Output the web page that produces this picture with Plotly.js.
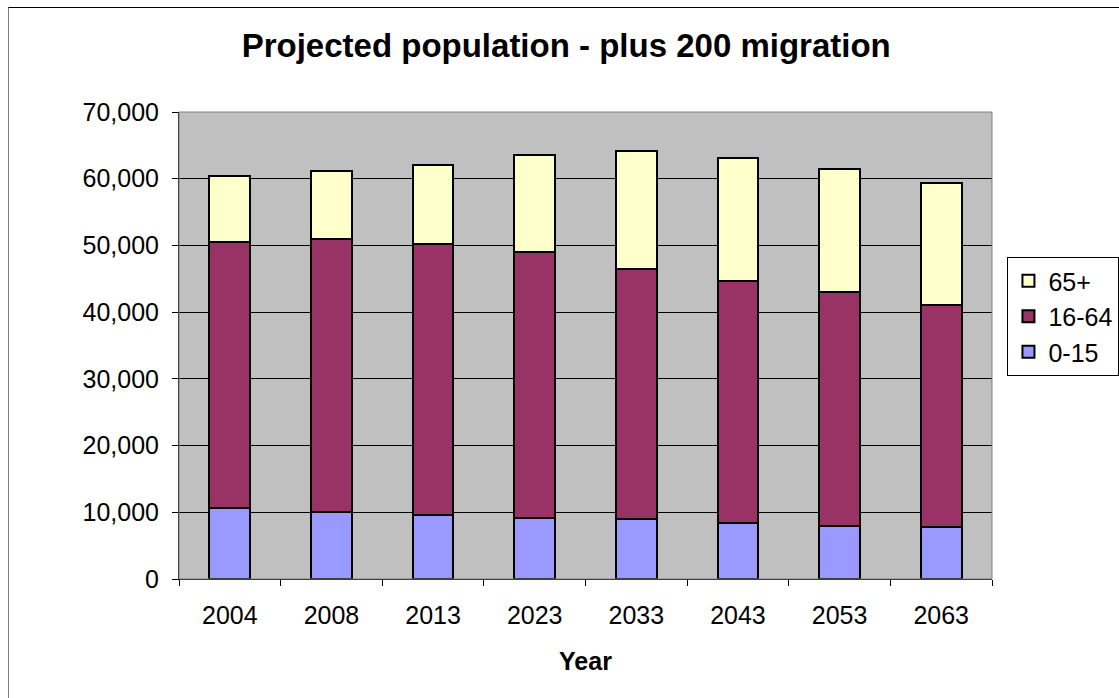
<!DOCTYPE html>
<html>
<head>
<meta charset="utf-8">
<script src="https://cdn.plot.ly/plotly-3.0.1.min.js"></script>
<style>
  html, body { margin: 0; padding: 0; background: #ffffff; }
  #wrap { position: relative; width: 1119px; height: 698px; overflow: hidden; }
  #frame { position: absolute; left: 8px; top: 7px; width: 1200px; height: 800px;
           border-left: 1px solid #808080; border-top: 1px solid #000000; pointer-events: none; }
  #chart { position: absolute; left: 0; top: 0; width: 1119px; height: 698px; }
</style>
</head>
<body>
<div id="wrap">
  <div id="chart"></div>
  <div id="frame"></div>
</div>
<script>
// Projected population by age band, plus 200 migration scenario
const years = ['2004', '2008', '2013', '2023', '2033', '2043', '2053', '2063'];
const age0to15 = [10600, 10050, 9550, 9100, 8950, 8400, 8000, 7860];
const age16to64 = [39900, 40900, 40700, 39900, 37500, 36200, 35000, 33240];
const age65plus = [9850, 10200, 11750, 14600, 17700, 18550, 18400, 18300];

const FONT = 'Liberation Sans, Arial, sans-serif';

function band(name, values, color) {
  return {
    type: 'bar',
    name: name,
    x: years,
    y: values,
    width: 0.4,
    marker: { color: color, line: { color: '#000000', width: 2 } },
    hoverinfo: 'x+y+name'
  };
}

const data = [
  band('0-15', age0to15, '#9999FF'),
  band('16-64', age16to64, '#993366'),
  band('65+', age65plus, '#FFFFCC')
];

const layout = {
  width: 1119,
  height: 698,
  margin: { l: 179, r: 127, t: 112, b: 119, pad: 0, autoexpand: false },
  paper_bgcolor: 'rgba(0,0,0,0)',
  plot_bgcolor: '#C0C0C0',
  barmode: 'stack',
  showlegend: true,
  font: { family: FONT, color: '#000000', size: 25 },
  title: {
    text: '<b>Projected population - plus 200 migration</b>',
    font: { family: FONT, size: 33, color: '#000000' },
    x: 0.506, xref: 'container', xanchor: 'center',
    y: 1, yref: 'container', yanchor: 'top', pad: { t: 34 }
  },
  xaxis: {
    type: 'category',
    tickson: 'boundaries',
    ticks: 'outside',
    ticklen: 6,
    tickcolor: '#000000',
    tickfont: { family: FONT, size: 25 },
    ticklabelstandoff: 14,
    showline: true,
    linecolor: '#000000',
    linewidth: 1,
    showgrid: false,
    title: { text: '<b>Year</b>', font: { family: FONT, size: 25 }, standoff: 24 },
    fixedrange: true
  },
  yaxis: {
    range: [0, 70000],
    dtick: 10000,
    tickformat: ',d',
    ticks: 'outside',
    ticklen: 6,
    tickcolor: '#000000',
    tickfont: { family: FONT, size: 25 },
    ticklabelstandoff: 8,
    showline: true,
    linecolor: '#000000',
    linewidth: 1,
    showgrid: true,
    gridcolor: '#000000',
    gridwidth: 1,
    zeroline: false,
    fixedrange: true
  },
  shapes: [
    { type: 'rect', xref: 'paper', yref: 'paper', x0: 0, x1: 1, y0: 0, y1: 1,
      line: { color: '#808080', width: 1 }, fillcolor: 'rgba(0,0,0,0)', layer: 'above' }
  ],
  legend: {
    x: 1.019, xanchor: 'left',
    y: 0.6895, yanchor: 'top',
    bgcolor: '#ffffff',
    bordercolor: '#000000',
    borderwidth: 1,
    font: { family: FONT, size: 25 },
    itemwidth: 30
  }
};

Plotly.newPlot('chart', data, layout, { displayModeBar: false, staticPlot: true });
</script>
</body>
</html>
